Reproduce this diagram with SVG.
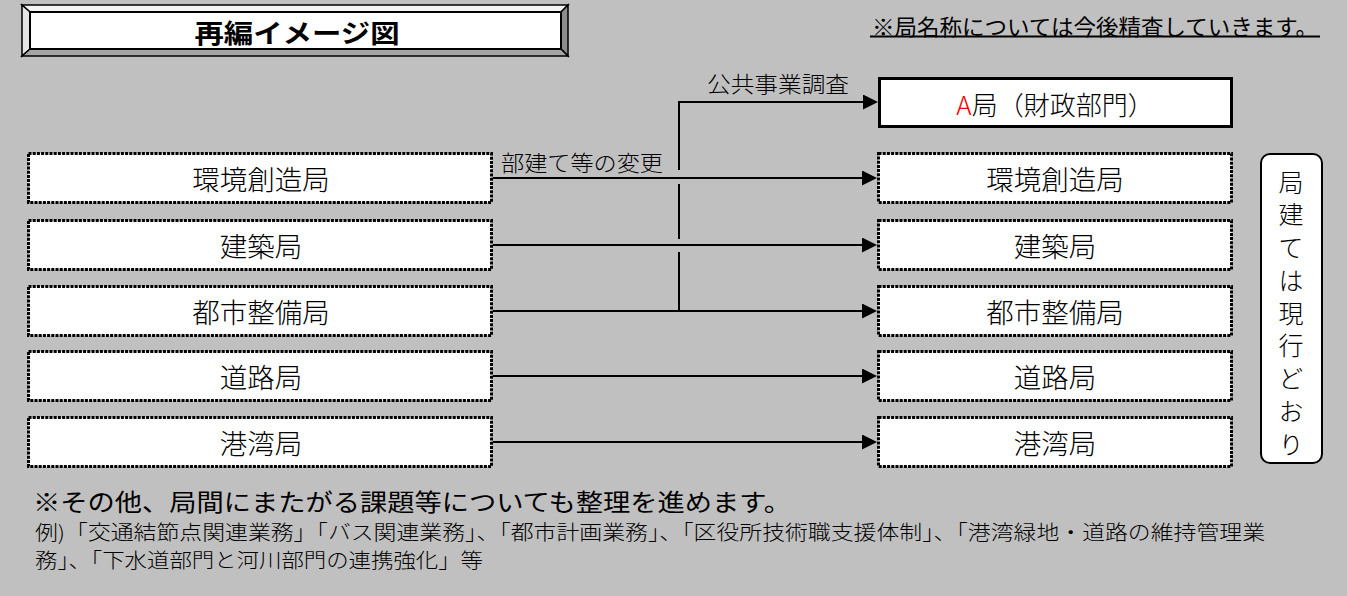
<svg xmlns="http://www.w3.org/2000/svg" width="1347" height="596" viewBox="0 0 1347 596">
<defs>
<style>
text{font-family:"Noto Sans CJK JP","Liberation Sans",sans-serif;fill:#000;dominant-baseline:central}
.thin{font-weight:300}
.box{fill:#fff;stroke:#000;stroke-width:3;stroke-dasharray:3 1.2}
.lbl{font-size:27.5px;text-anchor:middle;font-weight:300}
.conn{fill:none;stroke:#000;stroke-width:2}
.bev{stroke:#000;stroke-width:1.5;stroke-linejoin:miter}
</style>
<marker id="arr" markerUnits="userSpaceOnUse" markerWidth="16" markerHeight="16" refX="8" refY="7.5" orient="auto">
<path d="M0,0 L15,7.5 L0,15 Z" fill="#000"/>
</marker>
</defs>
<rect x="0" y="0" width="1347" height="596" fill="#c0c0c0"/>

<g id="title">
<polygon class="bev" points="22,5 568,5 561,12 30,12" fill="#f4f4f4"/>
<polygon class="bev" points="22,5 30,12 30,49 22,56" fill="#e4e4e4"/>
<polygon class="bev" points="568,5 568,56 561,49 561,12" fill="#8c8c8c"/>
<polygon class="bev" points="22,56 30,49 561,49 568,56" fill="#a4a4a4"/>
<rect x="30" y="12" width="531" height="37" fill="#fff" stroke="#000" stroke-width="2"/>
<text x="297" y="31" font-size="26" font-weight="bold" text-anchor="middle" textLength="205" lengthAdjust="spacingAndGlyphs">再編イメージ図</text>
</g>

<g id="note">
<text x="872" y="25" font-size="22" textLength="446" lengthAdjust="spacingAndGlyphs">※局名称については今後精査していきます。</text>
<line x1="870" y1="36.5" x2="1320" y2="36.5" stroke="#000" stroke-width="1.8"/>
</g>

<g id="left-boxes">
<g id="l1"><rect class="box" x="28.5" y="153.5" width="463" height="49"/><text class="lbl" x="261" y="178">環境創造局</text></g>
<g id="l2"><rect class="box" x="28.5" y="220.5" width="463" height="49"/><text class="lbl" x="261" y="245">建築局</text></g>
<g id="l3"><rect class="box" x="28.5" y="286.5" width="463" height="49"/><text class="lbl" x="261" y="311">都市整備局</text></g>
<g id="l4"><rect class="box" x="28.5" y="351.5" width="463" height="49"/><text class="lbl" x="261" y="376">道路局</text></g>
<g id="l5"><rect class="box" x="28.5" y="417.5" width="463" height="49"/><text class="lbl" x="261" y="442">港湾局</text></g>
</g>

<g id="right-boxes">
<g id="a-kyoku"><rect x="879.5" y="78.5" width="352" height="48" fill="#fff" stroke="#000" stroke-width="3"/>
<text x="1055" y="103" font-size="26" text-anchor="middle" class="thin"><tspan fill="#ff0000">A</tspan>局（財政部門）</text></g>
<g id="r1"><rect class="box" x="878.5" y="153.5" width="353" height="49"/><text class="lbl" x="1055" y="178">環境創造局</text></g>
<g id="r2"><rect class="box" x="878.5" y="220.5" width="353" height="49"/><text class="lbl" x="1055" y="245">建築局</text></g>
<g id="r3"><rect class="box" x="878.5" y="286.5" width="353" height="49"/><text class="lbl" x="1055" y="311">都市整備局</text></g>
<g id="r4"><rect class="box" x="878.5" y="351.5" width="353" height="49"/><text class="lbl" x="1055" y="376">道路局</text></g>
<g id="r5"><rect class="box" x="878.5" y="417.5" width="353" height="49"/><text class="lbl" x="1055" y="442">港湾局</text></g>
</g>

<g id="side-note">
<rect x="1261" y="154" width="61" height="309" rx="9" ry="9" fill="#fff" stroke="#000" stroke-width="2"/>
<text x="1291" y="169.5" font-size="25" class="thin" writing-mode="vertical-rl" letter-spacing="7.75">局建ては現行どおり</text>
</g>

<g id="connectors">
<path class="conn" d="M493,178 H870" marker-end="url(#arr)"/>
<path class="conn" d="M493,245 H870" marker-end="url(#arr)"/>
<path class="conn" d="M493,311 H870" marker-end="url(#arr)"/>
<path class="conn" d="M493,376 H870" marker-end="url(#arr)"/>
<path class="conn" d="M493,442 H870" marker-end="url(#arr)"/>
<path class="conn" d="M679,311 V252 M679,239 V184 M679,170 V102 H871" marker-end="url(#arr)"/>
<text x="501" y="161" font-size="22" class="thin" textLength="162" lengthAdjust="spacingAndGlyphs">部建て等の変更</text>
<text x="707" y="82" font-size="22" class="thin" textLength="142" lengthAdjust="spacingAndGlyphs">公共事業調査</text>
</g>

<g id="footer">
<text x="33" y="500" font-size="24" textLength="758" lengthAdjust="spacingAndGlyphs">※その他、局間にまたがる課題等についても整理を進めます。</text>
<text x="35" y="531" font-size="20" fill="#222" class="thin" textLength="1230" lengthAdjust="spacingAndGlyphs">例)「交通結節点関連業務」「バス関連業務」、「都市計画業務」、「区役所技術職支援体制」、「港湾緑地・道路の維持管理業</text>
<text x="35" y="559" font-size="20" fill="#222" class="thin" textLength="448" lengthAdjust="spacingAndGlyphs">務」、「下水道部門と河川部門の連携強化」等</text>
</g>
</svg>
